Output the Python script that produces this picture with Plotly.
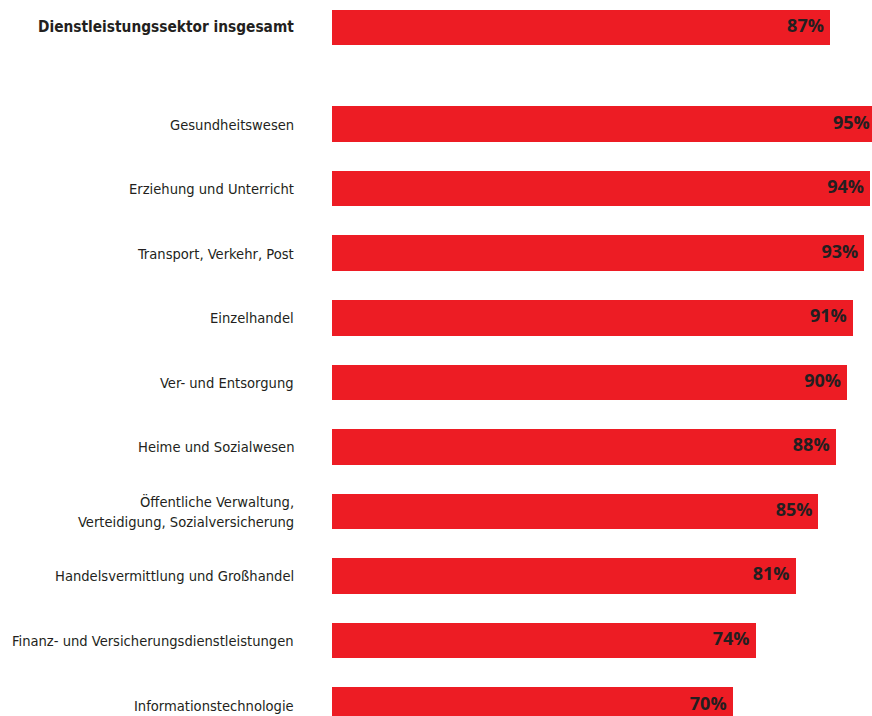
import plotly.graph_objects as go

categories = [
    "Dienstleistungssektor insgesamt",
    "Gesundheitswesen",
    "Erziehung und Unterricht",
    "Transport, Verkehr, Post",
    "Einzelhandel",
    "Ver- und Entsorgung",
    "Heime und Sozialwesen",
    "Öffentliche Verwaltung,<br>Verteidigung, Sozialversicherung",
    "Handelsvermittlung und Großhandel",
    "Finanz- und Versicherungsdienstleistungen",
    "Informationstechnologie",
]
values = [87, 95, 94, 93, 91, 90, 88, 85, 81, 74, 70]
value_labels = [f"{v}%" for v in values]

# layout: total row on top, then a gap of half a row before the sectors
GAP = 0.5
slots = [0.0] + [1.0 + GAP + i for i in range(len(categories) - 1)]

RED = "#ED1C24"
TXT = "#231F20"
LABEL_FONT = "DejaVu Sans Condensed, Liberation Sans Narrow, sans-serif"
VALUE_FONT = "Open Sans, Liberation Sans, sans-serif"

fig = go.Figure()
fig.add_trace(go.Bar(
    x=values, y=slots, orientation="h", width=0.55,
    marker=dict(color=RED, line=dict(width=0)),
    hoverinfo="skip", showlegend=False,
))
fig.add_trace(go.Scatter(
    x=values, y=slots, mode="markers+text", text=value_labels,
    textposition="middle left",
    marker=dict(size=8, opacity=0),
    textfont=dict(family=VALUE_FONT, size=18, color=TXT, weight="bold"),
    cliponaxis=False, hoverinfo="skip", showlegend=False,
))

annotations = []
LINE_GAP = 19.5
for i, (cat, y) in enumerate(zip(categories, slots)):
    lines = cat.split("<br>")
    n = len(lines)
    for j, line in enumerate(lines):
        shift = ((n - 1) / 2 - j) * LINE_GAP
        annotations.append(dict(
            text=f"<b>{line}</b>" if i == 0 else line,
            x=0, xref="paper", y=y, yref="y",
            xanchor="right", yanchor="middle", xshift=-36, yshift=shift,
            showarrow=False,
            font=dict(family=LABEL_FONT, size=15.3 if i == 0 else 14.6, color=TXT),
        ))

# plot area runs slightly past the window's right edge (longest bar is cut off there)
fig.update_layout(
    width=880, height=716,
    margin=dict(l=332, r=0, t=0, b=0),
    paper_bgcolor="white", plot_bgcolor="white",
    bargap=0,
    xaxis=dict(range=[0, 95.75], visible=False, showgrid=False, zeroline=False),
    yaxis=dict(range=[10.669, -0.423], visible=False, showgrid=False, zeroline=False),
    annotations=annotations,
)

fig.write_html(
    "out.html",
    config={"displayModeBar": False, "staticPlot": True},
    post_script=(
        "document.body.style.margin='0';"
        "document.body.style.overflow='hidden';"
        "document.documentElement.style.overflow='hidden';"
    ),
)
